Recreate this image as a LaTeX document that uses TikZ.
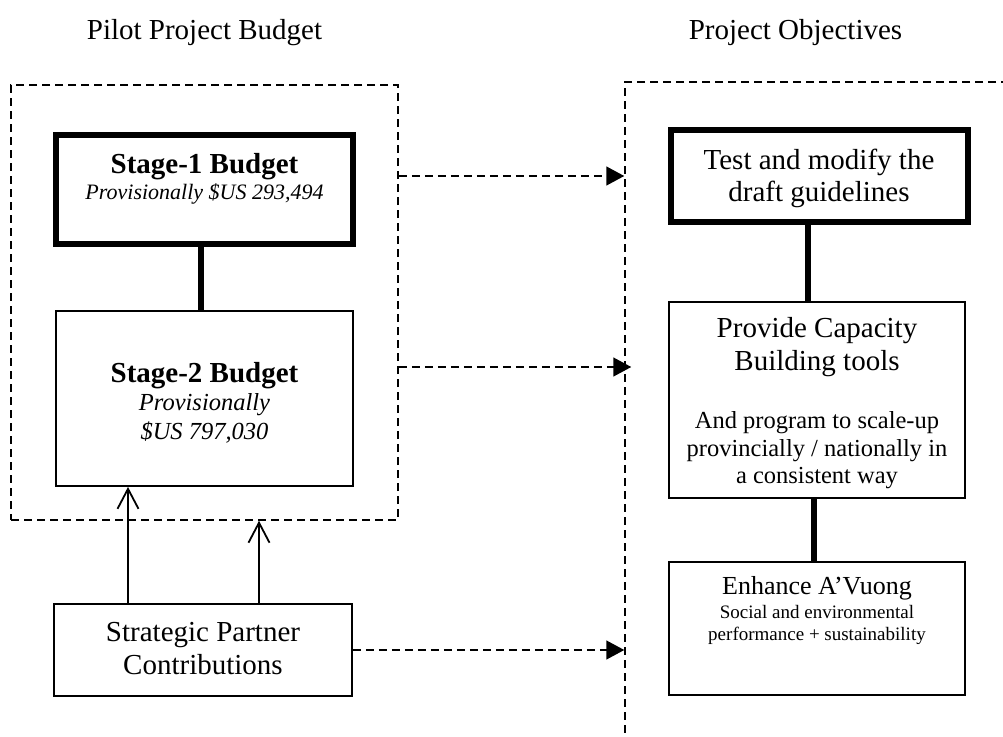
\documentclass[tikz,border=0pt]{standalone}
\usepackage{fontspec}
\setmainfont{Liberation Serif}
\usetikzlibrary{arrows.meta}
\newcommand{\pxsize}[1]{\fontsize{#1}{#1}\selectfont}

\begin{document}
\begin{tikzpicture}[x=1pt,y=-1pt,
  frame/.style={draw, line width=1.5pt, dash pattern=on 8pt off 5pt, inner sep=0pt},
  heavybox/.style={draw, line width=6.5pt, inner sep=0pt, line join=miter},
  lightbox/.style={draw, line width=1.8pt, inner sep=0pt},
  label/.style={anchor=base, inner sep=0pt, outer sep=0pt},
  link/.style={line width=6pt},
  feed/.style={line width=1.8pt, -{Straight Barb[length=20pt,width=21pt]}},
  flow/.style={line width=1.5pt, dash pattern=on 8pt off 5pt, -{Triangle[length=18pt,width=19pt]}}
]
\useasboundingbox (0,0) rectangle (1003,736);
\clip (0,0) rectangle (1003,736);

% column titles
\node[label, font=\pxsize{29}] (ttlL) at (204.5,39) {Pilot Project Budget};
\node[label, font=\pxsize{29}] (ttlR) at (795.5,39) {Project Objectives};

% dashed frames
\node[frame, minimum width=387pt, minimum height=435pt] (lb) at (204.5,302.5) {};
\node[frame, minimum width=415pt, minimum height=698pt] (rb) at (832.5,431) {};

% budget boxes
\node[heavybox, minimum width=297pt, minimum height=109pt] (s1) at (204.5,189.5) {};
\node[lightbox, minimum width=297pt, minimum height=175pt] (s2) at (204.5,398.5) {};
\node[lightbox, minimum width=298pt, minimum height=92pt] (sp) at (203,650) {};

% objective boxes
\node[heavybox, minimum width=297pt, minimum height=92pt] (t) at (819.5,176) {};
\node[lightbox, minimum width=296pt, minimum height=196pt] (pc) at (817,400) {};
\node[lightbox, minimum width=296pt, minimum height=133pt] (en) at (817,628.5) {};

% box texts
\node[label, font=\pxsize{29}\bfseries] (s1a) at (204.5,173) {Stage-1 Budget};
\node[label, font=\pxsize{22}\itshape] (s1b) at (204.5,199) {Provisionally \$US 293,494};

\node[label, font=\pxsize{29}\bfseries] (s2a) at (204.5,382) {Stage-2 Budget};
\node[label, font=\pxsize{24.5}\itshape] (s2b) at (204.5,410) {Provisionally};
\node[label, font=\pxsize{24.5}\itshape] (s2c) at (204.5,439) {\$US 797,030};

\node[label, font=\pxsize{29}] (spa) at (203,641) {Strategic Partner};
\node[label, font=\pxsize{29}] (spb) at (203,674) {Contributions};

\node[label, font=\pxsize{29}] (ta) at (819,169.5) {Test and modify the};
\node[label, font=\pxsize{29}] (tb) at (819,201.5) {draft guidelines};

\node[label, font=\pxsize{29}] (pca) at (817,337) {Provide Capacity};
\node[label, font=\pxsize{29}] (pcb) at (817,370) {Building tools};
\node[label, font=\pxsize{24.5}] (pcc) at (817,428) {And program to scale-up};
\node[label, font=\pxsize{24.5}] (pcd) at (817,456) {provincially / nationally in};
\node[label, font=\pxsize{24.5}] (pce) at (817,483) {a consistent way};

\node[label, font=\pxsize{26}] (ena) at (817,594) {Enhance A’Vuong};
\node[label, font=\pxsize{19}] (enb) at (817,618) {Social and environmental};
\node[label, font=\pxsize{19}] (enc) at (817,640) {performance + sustainability};

% heavy links between stacked boxes
\draw[link] ([xshift=-3.5pt]s1.south) -- ([xshift=-3.5pt]s1.south |- s2.north);
\draw[link] ([xshift=-11.5pt]t.south) -- ([xshift=-11.5pt]t.south |- pc.north);
\draw[link] ([xshift=-3pt]pc.south) -- ([xshift=-3pt]pc.south |- en.north);

% partner contributions feeding the budget
\draw[feed] ([xshift=-75pt]sp.north) -- ([xshift=-75pt]sp.north |- s2.south);
\draw[feed] ([xshift=56pt]sp.north) -- ([xshift=56pt]sp.north |- lb.south);

% budget to objectives
\coordinate (midrow) at (0,367);
\draw[flow] (lb.east |- t.center) -- (rb.west |- t.center);
\draw[flow, shorten >=-7pt] (lb.east |- midrow) -- (rb.west |- midrow);
\draw[flow] (sp.east) -- (rb.west |- sp.east);
\end{tikzpicture}
\end{document}
